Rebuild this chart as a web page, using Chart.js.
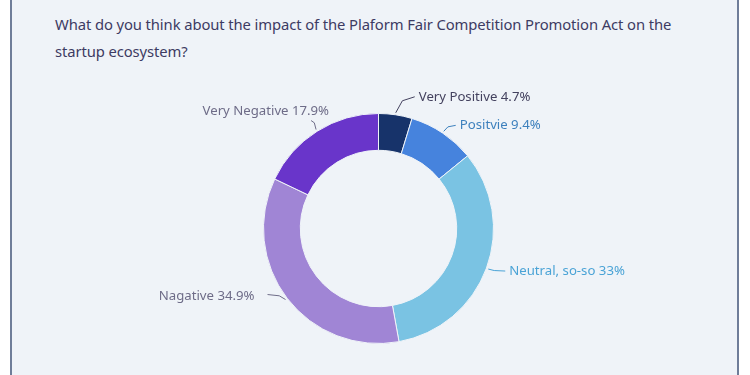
<!DOCTYPE html>
<html>
<head>
<meta charset="utf-8">
<script src="https://cdn.jsdelivr.net/npm/chart.js@4"></script>
<style>
  html, body { margin: 0; padding: 0; background: #ffffff; overflow: hidden; }
  .card {
    position: absolute; left: 10px; top: -10px; width: 725px; height: 400px;
    border: 2px solid #6f7d99; background: #eff3f8;
  }
  .title {
    position: absolute; left: 55px; top: 11px; width: 660px;
    font-family: "Noto Sans", sans-serif; font-size: 14.8px; line-height: 27px;
    letter-spacing: -0.1px; color: #3d3b63;
  }
  #wrap { position: absolute; left: 0; top: 0; width: 750px; height: 375px; }
</style>
</head>
<body>
<div class="card"></div>
<div class="title">What do you think about the impact of the Plaform Fair Competition Promotion Act on the startup ecosystem?</div>
<div id="wrap"><canvas id="chart"></canvas></div>
<script>
// Data
const categories = ['Very Positive', 'Positvie', 'Neutral, so-so', 'Nagative', 'Very Negative'];
const values = [4.7, 9.4, 33, 34.9, 17.9];
const sliceColors = ['#17336a', '#4683dd', '#7ac3e3', '#a085d5', '#6935ca'];
const labelColors = ['#44425f', '#3d80bd', '#4aa3d6', '#6e6c88', '#6e6c88'];
// label offset from the outer edge of each slice, and text alignment
const labelOffsets = [
    { dx: 23, dy: -16, align: 'left' },
    { dx: 16, dy: -6, align: 'left' },
    { dx: 21, dy: 2, align: 'left' },
    { dx: -31, dy: -3, align: 'right' },
    { dx: 13, dy: -18, align: 'right' }
];

// Leader lines + labels drawn from the arc geometry
const sliceLabels = {
    id: 'sliceLabels',
    afterDatasetsDraw(chart) {
        const ctx = chart.ctx;
        const meta = chart.getDatasetMeta(0);
        ctx.save();
        ctx.font = '13.2px "Noto Sans", sans-serif';
        ctx.textBaseline = 'middle';
        meta.data.forEach((arc, i) => {
            const { x, y, startAngle, endAngle, outerRadius } = arc.getProps(['x', 'y', 'startAngle', 'endAngle', 'outerRadius'], true);
            const mid = (startAngle + endAngle) / 2;
            const px = x + Math.cos(mid) * (outerRadius + 2);
            const py = y + Math.sin(mid) * (outerRadius + 2);
            const off = labelOffsets[i];
            const tx = px + off.dx;
            const ty = py + off.dy;
            let endX, endY;
            if (off.align === 'left') {
                endX = tx - 4; endY = ty;
            } else if (i === 3) {
                endX = tx + 13; endY = ty - 2;
            } else {
                endX = tx - 18; endY = ty + 9;
            }
            const elbowX = px + (endX - px) * 0.35;
            const elbowY = py + (endY - py) * 0.75;
            ctx.strokeStyle = labelColors[i];
            ctx.lineWidth = 1;
            ctx.beginPath();
            ctx.moveTo(px, py);
            ctx.lineTo(elbowX, elbowY);
            ctx.lineTo(endX, endY);
            ctx.stroke();
            ctx.fillStyle = labelColors[i];
            ctx.textAlign = off.align;
            ctx.fillText(categories[i] + ' ' + values[i] + '%', tx, ty);
        });
        ctx.restore();
    }
};

new Chart(document.getElementById('chart'), {
    type: 'doughnut',
    data: {
        labels: categories,
        datasets: [{
            data: values,
            backgroundColor: sliceColors,
            borderColor: '#eff3f8',
            borderWidth: 1
        }]
    },
    options: {
        responsive: true,
        maintainAspectRatio: false,
        animation: false,
        cutout: '68%',
        layout: { padding: { left: 263, right: 256, top: 113, bottom: 31 } },
        plugins: {
            legend: { display: false },
            tooltip: { enabled: false }
        }
    },
    plugins: [sliceLabels]
});
</script>
</body>
</html>
